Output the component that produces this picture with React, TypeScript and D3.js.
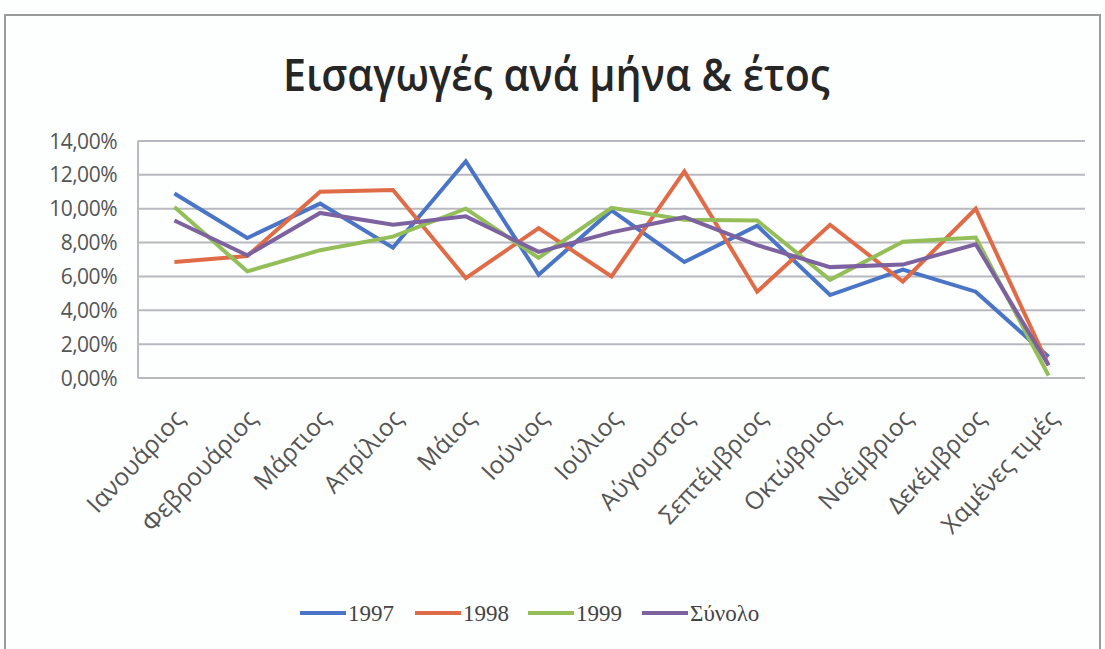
import React, { useRef, useEffect } from 'react';
import * as d3 from 'd3';

const months = [
  'Ιανουάριος', 'Φεβρουάριος', 'Μάρτιος', 'Απρίλιος', 'Μάιος', 'Ιούνιος',
  'Ιούλιος', 'Αύγουστος', 'Σεπτέμβριος', 'Οκτώβριος', 'Νοέμβριος', 'Δεκέμβριος', 'Χαμένες τιμές',
];

const values1997 = [10.9, 8.27, 10.3, 7.7, 12.8, 6.1, 9.9, 6.85, 9.0, 4.9, 6.4, 5.1, 1.25];
const values1998 = [6.85, 7.2, 11.0, 11.1, 5.9, 8.85, 6.0, 12.2, 5.1, 9.05, 5.7, 10.0, 0.75];
const values1999 = [10.1, 6.3, 7.55, 8.35, 10.0, 7.1, 10.05, 9.35, 9.3, 5.8, 8.05, 8.3, 0.15];
const valuesTotal = [9.3, 7.25, 9.75, 9.05, 9.55, 7.45, 8.6, 9.5, 7.85, 6.55, 6.7, 7.9, 0.75];

const yTicks = [0, 2, 4, 6, 8, 10, 12, 14];

const series = [
  { name: '1997', values: values1997, color: '#4A75C6' },
  { name: '1998', values: values1998, color: '#E06B47' },
  { name: '1999', values: values1999, color: '#93BE58' },
  { name: 'Σύνολο', values: valuesTotal, color: '#7D62A0' },
];

const W = 1105;
const H = 649;

const App = () => {
  const chartRef = useRef<SVGSVGElement>(null);

  useEffect(() => {
    if (!chartRef.current) return;
    const margin = { top: 141, right: 20, bottom: 271, left: 138 };
    const svg = d3.select(chartRef.current).html('');
    const labelFont = '"Open Sans", sans-serif';

    svg.append('rect')
      .attr('width', W).attr('height', H).attr('fill', '#fdfefe');

    // chart frame
    svg.append('rect')
      .attr('x', 5).attr('y', 15)
      .attr('width', 1095).attr('height', 640)
      .attr('fill', 'none')
      .attr('stroke', '#9a9a9a')
      .attr('stroke-width', 2);

    svg.append('text')
      .attr('x', 283).attr('y', 91)
      .attr('textLength', 547)
      .attr('lengthAdjust', 'spacingAndGlyphs')
      .attr('font-family', labelFont)
      .attr('font-size', '45px')
      .attr('font-weight', 600)
      .attr('fill', '#262626')
      .text('Εισαγωγές ανά μήνα & έτος');

    const xScale = d3.scaleBand()
      .domain(months)
      .range([margin.left, W - margin.right]);

    const yScale = d3.scaleLinear()
      .domain([0, 14])
      .range([H - margin.bottom, margin.top]);

    // gridlines
    svg.append('g')
      .selectAll('line')
      .data(yTicks)
      .enter().append('line')
      .attr('x1', margin.left)
      .attr('x2', W - margin.right)
      .attr('y1', d => yScale(d))
      .attr('y2', d => yScale(d))
      .attr('stroke', '#b8b8c0')
      .attr('stroke-width', 2);

    svg.append('line')
      .attr('x1', margin.left).attr('x2', margin.left)
      .attr('y1', yScale(0)).attr('y2', yScale(14))
      .attr('stroke', '#b8b8c0')
      .attr('stroke-width', 2);

    svg.append('g')
      .selectAll('text')
      .data(yTicks)
      .enter().append('text')
      .attr('x', 117)
      .attr('y', d => yScale(d))
      .attr('dy', '0.36em')
      .attr('text-anchor', 'end')
      .attr('font-family', labelFont)
      .attr('font-size', '21px')
      .attr('letter-spacing', '-0.5px')
      .attr('fill', '#555')
      .text(d => d.toFixed(2).replace('.', ',') + '%');

    // category labels, rotated
    svg.append('g')
      .selectAll('text')
      .data(months)
      .enter().append('text')
      .attr('transform', d => `translate(${(xScale(d) as number) + xScale.bandwidth() / 2 + 5},${yScale(0) + 36}) rotate(-47)`)
      .attr('text-anchor', 'end')
      .attr('dy', '0.35em')
      .attr('font-family', labelFont)
      .attr('font-size', '24.5px')
      .attr('fill', '#555')
      .text(d => d);

    const line = d3.line<number>()
      .x((_, i) => (xScale(months[i]) as number) + xScale.bandwidth() / 2)
      .y(d => yScale(d));

    svg.append('g')
      .selectAll('path')
      .data(series)
      .enter().append('path')
      .attr('d', d => line(d.values))
      .attr('fill', 'none')
      .attr('stroke', d => d.color)
      .attr('stroke-width', 4)
      .attr('stroke-linejoin', 'miter');

    // legend
    const legendX = [300, 415, 528, 642];
    const legend = svg.append('g');
    legend.selectAll('line')
      .data(series)
      .enter().append('line')
      .attr('x1', (_, i) => legendX[i])
      .attr('x2', (_, i) => legendX[i] + 46)
      .attr('y1', 613).attr('y2', 613)
      .attr('stroke', d => d.color)
      .attr('stroke-width', 4);
    legend.selectAll('text')
      .data(series)
      .enter().append('text')
      .attr('x', (_, i) => legendX[i] + 48)
      .attr('y', 613)
      .attr('dy', '0.35em')
      .attr('font-family', '"Liberation Serif", serif')
      .attr('font-size', '23px')
      .attr('fill', '#444')
      .text(d => d.name);
  }, []);

  return (
    <svg ref={chartRef} width={W} height={H} style={{ position: 'absolute', left: 0, top: 0 }}></svg>
  );
};

export default App;
